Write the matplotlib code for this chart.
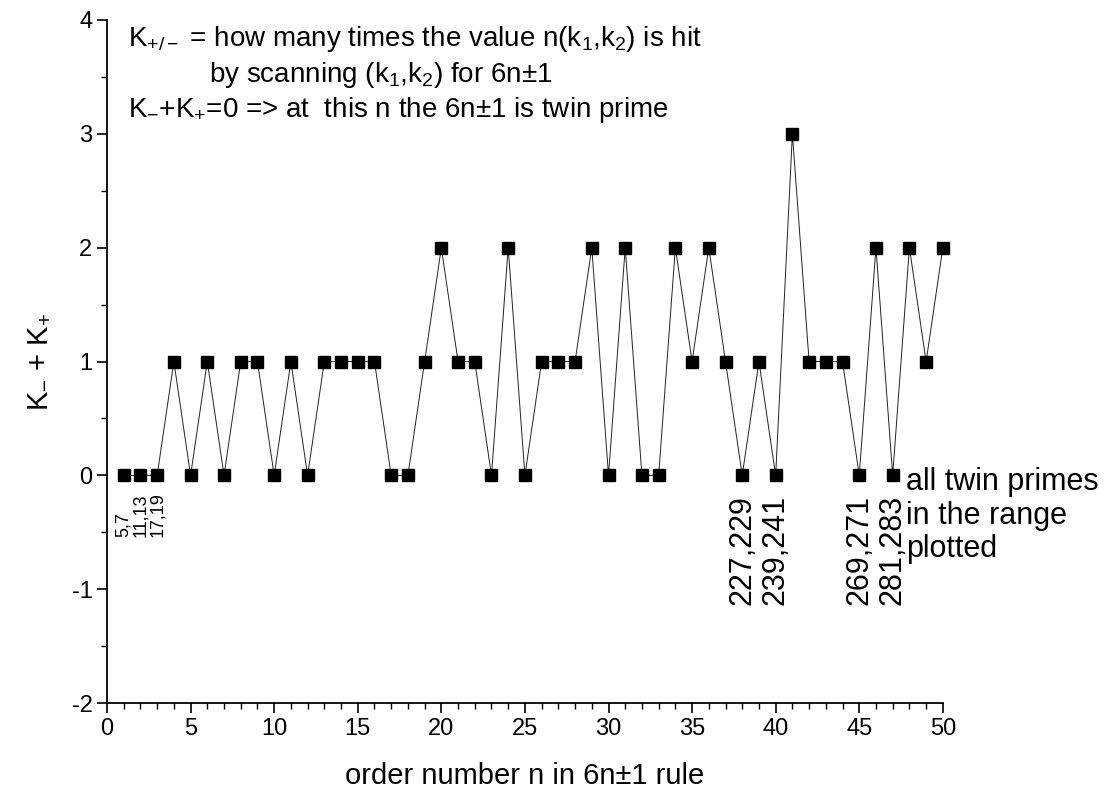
#Twin prime indicator K- + K+ versus order number n

import matplotlib.pyplot as plt
import numpy as np

plt.rcParams['font.family'] = ['Liberation Sans', 'DejaVu Sans']
plt.rcParams['mathtext.fontset'] = 'custom'
plt.rcParams['mathtext.rm'] = 'Liberation Sans'
plt.rcParams['mathtext.it'] = 'Liberation Sans'
plt.rcParams['axes.unicode_minus'] = False

#Data
n = np.arange(1, 51)
k_sum = [0, 0, 0, 1, 0, 1, 0, 1, 1, 0,
         1, 0, 1, 1, 1, 1, 0, 0, 1, 2,
         1, 1, 0, 2, 0, 1, 1, 1, 2, 0,
         2, 0, 0, 2, 1, 2, 1, 0, 1, 0,
         3, 1, 1, 1, 0, 2, 0, 2, 1, 2]

small_twin_n = [1, 2, 3]
small_twin_labels = ['5,7', '11,13', '17,19']
big_twin_n = [38, 40, 45, 47]
big_twin_labels = ['227,229', '239,241', '269,271', '281,283']

#Plot
fig = plt.figure(figsize=(11.1, 7.99), dpi=100)
ax = fig.add_axes([0.0964, 0.12, 0.753, 0.855])

ax.plot(n, k_sum, color='#222222', lw=0.7, marker='s', ms=8,
        markerfacecolor='black', markeredgecolor='black', clip_on=False)

ax.set_xlim(0, 50)
ax.set_ylim(-2, 4)
ax.set_xticks(np.arange(0, 51, 5))
ax.set_xticks(np.arange(0, 51, 1), minor=True)
ax.set_yticks(np.arange(-2, 5, 1))
ax.set_yticks(np.arange(-2, 4.1, 0.5), minor=True)
ax.tick_params(which='major', direction='out', length=7, width=1.2, labelsize=17)
ax.tick_params(which='minor', direction='out', length=4, width=1)
ax.spines['top'].set_visible(False)
ax.spines['right'].set_visible(False)
ax.spines['left'].set_linewidth(1.3)
ax.spines['bottom'].set_linewidth(1.3)

ax.set_xlabel('order number n in 6n\u00b11 rule', fontsize=21, labelpad=16)
ax.set_ylabel('K$_{-}$ + K$_{+}$', fontsize=21, labelpad=14)

#Explanation text
ax.text(1.25, 3.83, 'K$_{+/-}$ = how many times the value n(k$_{1}$,k$_{2}$) is hit',
        fontsize=20, va='center')
ax.text(6.1, 3.52, 'by scanning (k$_{1}$,k$_{2}$) for 6n\u00b11',
        fontsize=20, va='center')
ax.text(1.25, 3.21, 'K$_{-}$+K$_{+}$=0 => at  this n the 6n\u00b11 is twin prime',
        fontsize=20, va='center')

#Twin prime labels
for x, lab in zip(small_twin_n, small_twin_labels):
    ax.text(x, -0.545, lab, rotation=90, fontsize=13, ha='center', va='bottom')
for x, lab in zip(big_twin_n, big_twin_labels):
    ax.text(x, -0.17, lab, rotation=90, fontsize=22, ha='center', va='top')

ax.text(47.8, 0.07, 'all twin primes\nin the range\nplotted', fontsize=22,
        va='top', ha='left', linespacing=1.15)

plt.savefig('out.png', dpi=100)
